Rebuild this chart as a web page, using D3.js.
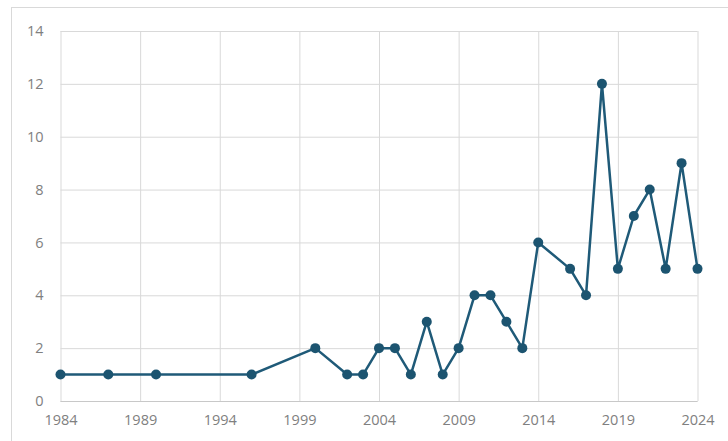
<!DOCTYPE html>
<html><head><meta charset="utf-8">
<script src="https://cdn.jsdelivr.net/npm/d3@7"></script>
<style>html,body{margin:0;padding:0;background:#fff;overflow:hidden}svg{display:block}</style>
</head><body>
<svg id="c" width="728" height="441"></svg>
<script>
const years = [1984,1987,1990,1996,2000,2002,2003,2004,2005,2006,2007,2008,2009,2010,2011,2012,2013,2014,2016,2017,2018,2019,2020,2021,2022,2023,2024];
const values = [1,1,1,1,2,1,1,2,2,1,3,1,2,4,4,3,2,6,5,4,12,5,7,8,5,9,5];
const xTicks = [1984,1989,1994,1999,2004,2009,2014,2019,2024];
const yTicks = [0,2,4,6,8,10,12,14];

const svg = d3.select("#c");
const x = d3.scaleLinear().domain([1984,2024]).range([60.5,697.5]);
const y = d3.scaleLinear().domain([0,14]).range([401,31]);

svg.append("rect").attr("x",11.5).attr("y",7.5).attr("width",740).attr("height",440)
  .attr("fill","none").attr("stroke","#d9d9d9");

const font = "'Open Sans', sans-serif";
const ya = svg.append("g").attr("transform","translate(60.5,0)")
  .call(d3.axisLeft(y).tickValues(yTicks).tickSize(-637).tickPadding(17).tickFormat(d3.format("d")));
ya.select(".domain").remove();
ya.selectAll("line").attr("stroke","#d9d9d9");
ya.selectAll("text").attr("fill","#808080").style("font-family",font).style("font-size","14.5px");

const xa = svg.append("g").attr("transform","translate(0,401)")
  .call(d3.axisBottom(x).tickValues(xTicks).tickSize(-370).tickPadding(14).tickFormat(d3.format("d")));
xa.select(".domain").remove();
xa.selectAll("line").attr("stroke","#d9d9d9");
xa.selectAll("text").attr("fill","#808080").style("font-family",font).style("font-size","14.5px");

svg.append("line").attr("x1",60.5).attr("x2",697.5).attr("y1",401.5).attr("y2",401.5).attr("stroke","#c8c8c8");

const data = years.map((d,i)=>({year:d,value:values[i]}));
svg.append("path").datum(data)
  .attr("fill","none").attr("stroke","#1f5a78").attr("stroke-width",2.5).attr("stroke-linejoin","round")
  .attr("d", d3.line().x(d=>x(d.year)).y(d=>y(d.value)));
svg.selectAll("circle.pt").data(data).enter().append("circle").attr("class","pt")
  .attr("cx",d=>x(d.year)).attr("cy",d=>y(d.value)).attr("r",5).attr("fill","#1c5470");
</script>
</body></html>
